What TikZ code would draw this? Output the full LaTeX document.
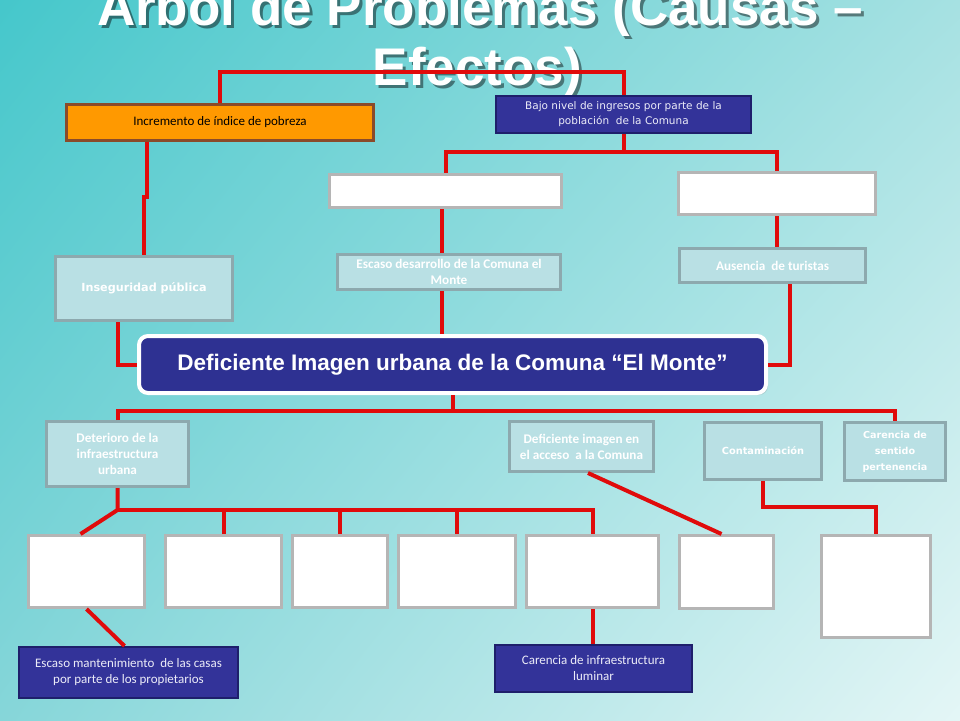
\documentclass[tikz,border=0pt]{standalone}
\usepackage{fontspec}
\setmainfont{Carlito}
\newfontfamily\tahomafont{DejaVu Sans}
\newfontfamily\arialfont{Liberation Sans}
\usetikzlibrary{positioning}
\usetikzlibrary{shadows}
\usetikzlibrary{shadings}
\definecolor{linkred}{HTML}{E00B0B}
\definecolor{lfill}{HTML}{B9E0E4}
\definecolor{lborder}{HTML}{8DA9AE}
\definecolor{wborder}{HTML}{B5B5B5}
\definecolor{bfill}{HTML}{333399}
\definecolor{bborder}{HTML}{1E1F6B}
\definecolor{bwhite}{HTML}{ECECF8}
\definecolor{cfill}{HTML}{2E3192}
\definecolor{orangefill}{HTML}{FF9900}
\definecolor{oborder}{HTML}{8A4B2A}
\definecolor{bgul}{HTML}{45C7CB}
\definecolor{bgur}{HTML}{A6E1E2}
\definecolor{bgll}{HTML}{86D6D9}
\definecolor{bglr}{HTML}{E4F6F6}

\begin{document}
\begin{tikzpicture}[x=1pt, y=-1pt,
    link/.style={draw=linkred, line width=4pt},
    wh/.style 2 args={minimum width=#1pt, minimum height=#2pt},
    lbox/.style={rectangle, draw=lborder, fill=lfill, line width=3pt, text=white, align=center, inner sep=2pt, font=\bfseries\fontsize{13.2}{16}\selectfont},
    tbox/.style={lbox, font=\tahomafont\bfseries\fontsize{9.8}{16}\selectfont},
    wbox/.style={rectangle, draw=wborder, fill=white, line width=3pt},
    bbox/.style={rectangle, draw=bborder, fill=bfill, line width=2pt, text=bwhite, align=center, font=\fontsize{13}{16}\selectfont},
    headline/.style={text=white, font=\arialfont\bfseries\fontsize{53}{60}\selectfont, anchor=base}]

    % Background
    \useasboundingbox (0,0) rectangle (960,720);
    \shade[upper left=bgul, upper right=bgur, lower left=bgll, lower right=bglr] (0,0) rectangle (960,720);

    % Title
    \node[headline, text=black, text opacity=0.45] (shadow1) at (483,28) {Árbol de Problemas (Causas –};
    \node[headline, text=black, text opacity=0.45] (shadow2) at (480.5,88) {Efectos)};
    \node[headline] (title1) at (480,25) {Árbol de Problemas (Causas –};
    \node[headline] (title2) at (477.5,85) {Efectos)};

    % Define nodes
    \node[rectangle, draw=oborder, fill=orangefill, line width=3pt, wh={307}{36}, font=\fontsize{13}{16}\selectfont] (pobreza) at (220,122.5) {Incremento de índice de pobreza};
    \node[bbox, wh={255}{37}, font=\tahomafont\fontsize{10.5}{15}\selectfont] (ingresos) at (623.5,114.5) {Bajo nivel de ingresos por parte de la\\población~ de la Comuna};
    \node[wbox, wh={232}{33}] (whiteA) at (445.5,191) {};
    \node[wbox, wh={197}{42}] (whiteB) at (777,193.5) {};
    \node[tbox, wh={177}{64}, font=\tahomafont\bfseries\fontsize{11.2}{16}\selectfont] (inseg) at (144,288.5) {Inseguridad pública};
    \node[lbox, wh={223}{35}] (desarrollo) at (449,272) {Escaso desarrollo de la Comuna el\\Monte};
    \node[lbox, wh={186}{34}] (turistas) at (772.5,265.5) {Ausencia~ de turistas};
    \node[rectangle, rounded corners=9pt, draw=white, fill=cfill, line width=4pt, wh={627}{57}, text=white,
          font=\arialfont\bfseries\fontsize{22.5}{26}\selectfont,
          drop shadow={opacity=0.25, shadow xshift=2pt, shadow yshift=-2pt}] (central) at (452.5,364.5) {Deficiente Imagen urbana de la Comuna “El Monte”};
    \node[lbox, wh={142}{65}] (deterioro) at (117.5,454) {Deterioro de la\\infraestructura\\urbana};
    \node[lbox, wh={144}{50}] (acceso) at (581.5,446.5) {Deficiente imagen en\\el acceso~ a la Comuna};
    \node[tbox, wh={117}{57}] (contamin) at (763,451) {Contaminación};
    \node[tbox, wh={101}{58}, font=\tahomafont\bfseries\fontsize{9.6}{16}\selectfont] (sentido) at (895,451.5) {Carencia de\\sentido\\pertenencia};
    \node[wbox, wh={116}{72}] (w1) at (86.5,571.5) {};
    \node[wbox, wh={116}{72}, right=18pt of w1] (w2) {};
    \node[wbox, wh={95}{72}, right=8pt of w2] (w3) {};
    \node[wbox, wh={117}{72}, right=8pt of w3] (w4) {};
    \node[wbox, wh={132}{72}, right=8pt of w4] (w5) {};
    \node[wbox, wh={94}{73}, right=18pt of w5.north east, anchor=north west] (w6) {};
    \node[wbox, wh={109}{102}, right=45pt of w6.north east, anchor=north west] (w7) {};
    \node[bbox, wh={219}{51}] (mantenim) at (128.5,672.5) {Escaso mantenimiento~ de las casas\\por parte de los propietarios};
    \node[bbox, wh={197}{47}] (luminar) at (593.5,668.5) {Carencia de infraestructura\\luminar};

    % Connect the nodes
    \draw[link] (pobreza.north) -- ++(0,-31) -| (ingresos.north);
    \draw[link] (ingresos.south) -- ++(0,18) coordinate (ingfork);
    \draw[link] (whiteA.north) |- (ingfork) -| (whiteB.north);
    \draw[link] ([xshift=-73pt]pobreza.south) -- ++(0,55) -| (inseg.north);
    \draw[link] ([xshift=-26pt]inseg.south) |- (central.west);
    \draw[link] ([xshift=-7pt]desarrollo.north) -- ([xshift=-7pt]desarrollo.north |- whiteA.south);
    \draw[link] ([xshift=-7pt]desarrollo.south) -- ([xshift=-7pt]desarrollo.south |- central.north);
    \draw[link] (whiteB.south) -- (whiteB.south |- turistas.north);
    \draw[link] ([xshift=17.5pt]turistas.south) |- (central.east);
    \draw[link] (central.south) -- ++(0,16) coordinate (cenfork);
    \draw[link] (deterioro.north) |- (cenfork) -| (sentido.north);
    \draw[link] (deterioro.south) -- ++(0,22) coordinate (detfork) -- ([xshift=-6pt]w1.north);
    \draw[link] (detfork) -| (w5.north);
    \foreach \w in {w2,w3,w4} \draw[link] (\w.north) -- (\w.north |- detfork);
    \draw[link] ([xshift=6.5pt]acceso.south) -- ([xshift=-5pt]w6.north);
    \draw[link] (contamin.south) -- ++(0,26) -| (w7.north);
    \draw[link] (w1.south) -- ([xshift=-4pt]mantenim.north);
    \draw[link] (w5.south) -- (w5.south |- luminar.north);

\end{tikzpicture}
\end{document}
